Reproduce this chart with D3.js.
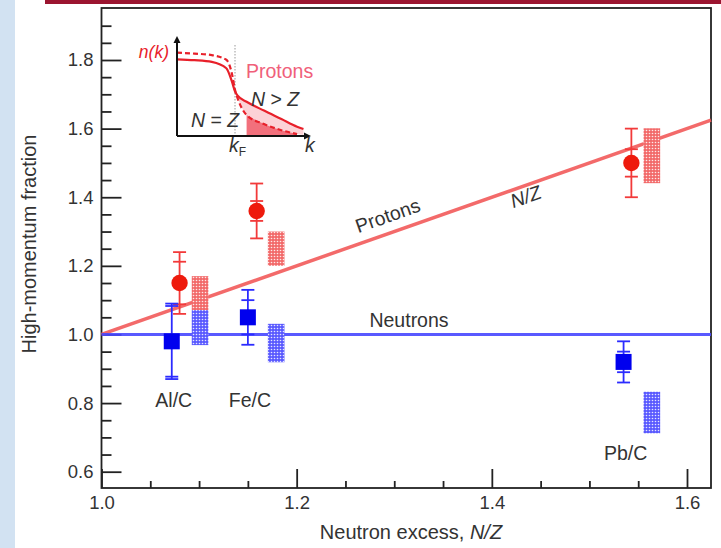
<!DOCTYPE html>
<html>
<head>
<meta charset="utf-8">
<script src="https://cdn.jsdelivr.net/npm/d3@7"></script>
<style>
  html, body { margin: 0; padding: 0; background: #fff; }
  svg { display: block; font-family: "Liberation Sans", Arial, Helvetica, sans-serif; }
</style>
</head>
<body>
<svg id="chart" width="721" height="548"></svg>
<script>
// Nuclei ratios and measured high-momentum fractions
const nuclei = ["Al/C", "Fe/C", "Pb/C"];

const protonNZ   = [1.080, 1.159, 1.543];
const protonFrac = [1.150, 1.360, 1.500];
const protonStat = [0.062, 0.029, 0.040];
const protonTot  = [0.090, 0.080, 0.100];

const neutronNZ   = [1.072, 1.150, 1.535];
const neutronFrac = [0.980, 1.050, 0.920];
const neutronStat = [0.103, 0.050, 0.030];
const neutronTot  = [0.110, 0.080, 0.060];

// Model prediction bands
const bandNZ        = [1.101, 1.179, 1.564];
const protonBandLo  = [1.071, 1.200, 1.441];
const protonBandHi  = [1.170, 1.300, 1.601];
const neutronBandLo = [0.969, 0.919, 0.712];
const neutronBandHi = [1.071, 1.031, 0.833];

// Axis ticks
const xMajor = [1.0, 1.2, 1.4, 1.6];
const xMajorLabels = ["1.0", "1.2", "1.4", "1.6"];
const yMajor = [0.6, 0.8, 1.0, 1.2, 1.4, 1.6, 1.8];
const yMajorLabels = ["0.6", "0.8", "1.0", "1.2", "1.4", "1.6", "1.8"];
const xMinor = [1.05, 1.1, 1.15, 1.25, 1.3, 1.35, 1.45, 1.5, 1.55];
const yMinor = [0.65, 0.7, 0.75, 0.85, 0.9, 0.95, 1.05, 1.1, 1.15, 1.25, 1.3, 1.35,
                1.45, 1.5, 1.55, 1.65, 1.7, 1.75, 1.85, 1.9];

// Inset: schematic momentum distributions n(k), k in units of kF
const insetK      = [0, 0.3, 0.6, 0.85, 0.95, 1.0, 1.05, 1.2, 1.5, 1.8, 2.07, 2.18];
const insetSolid  = [0.996, 0.985, 0.962, 0.88, 0.70, 0.58, 0.52, 0.445, 0.33, 0.22, 0.12, 0.09];
const insetDashed = [1.082, 1.07, 1.05, 0.99, 0.80, 0.60, 0.48, 0.273, 0.155, 0.075, 0.025, 0.012];

const svg = d3.select("#chart");

// page decorations
svg.append("rect").attr("x", 0).attr("y", 0).attr("width", 15).attr("height", 548).attr("fill", "#d2e2f2");
svg.append("rect").attr("x", 45).attr("y", 0).attr("width", 676).attr("height", 4).attr("fill", "#9b1530");

const fL = 101.5, fR = 711, fT = 8, fB = 488;
const x = d3.scaleLinear().domain([1.0, 1.6]).range([fL, 687]);
const y = d3.scaleLinear().domain([0.6, 1.8]).range([471.7, 60]);

const defs = svg.append("defs");
function dotPattern(id, bg) {
  const p = defs.append("pattern").attr("id", id).attr("patternUnits", "userSpaceOnUse")
    .attr("width", 3).attr("height", 3);
  p.append("rect").attr("width", 3).attr("height", 3).attr("fill", bg);
  p.append("circle").attr("cx", 1.5).attr("cy", 1.5).attr("r", 0.8).attr("fill", "#fff").attr("opacity", 0.85);
}
dotPattern("pRed", "#f26a6a");
dotPattern("pBlue", "#5a5aff");

// axes
const axisColor = "#222";
const tickFont = "18.5px";
const labelFont = "19.5px";
const titleFont = "20px";
const gx = svg.append("g").attr("transform", `translate(0,${fB})`);
gx.call(d3.axisBottom(x).tickValues(xMajor).tickFormat((d, i) => xMajorLabels[i]).tickSize(-19).tickPadding(8));
const gxm = svg.append("g").attr("transform", `translate(0,${fB})`);
gxm.call(d3.axisBottom(x).tickValues(xMinor).tickFormat("").tickSize(-7));
const gy = svg.append("g").attr("transform", `translate(${fL},0)`);
gy.call(d3.axisLeft(y).tickValues(yMajor).tickFormat((d, i) => yMajorLabels[i]).tickSize(-20).tickPadding(8));
const gym = svg.append("g").attr("transform", `translate(${fL},0)`);
gym.call(d3.axisLeft(y).tickValues(yMinor).tickFormat("").tickSize(-10));
[gx, gxm, gy, gym].forEach(g => {
  g.select(".domain").remove();
  g.selectAll(".tick line").attr("stroke", axisColor).attr("stroke-width", 1.8);
  g.selectAll(".tick text").attr("fill", "#333").style("font-size", tickFont)
    .style("font-family", "'Liberation Sans', Arial, sans-serif");
});

// frame
svg.append("rect").attr("x", fL).attr("y", fT).attr("width", fR - fL).attr("height", fB - fT)
  .attr("fill", "none").attr("stroke", axisColor).attr("stroke-width", 1.8);

// axis titles
svg.append("text").attr("transform", "translate(36,244) rotate(-90)")
  .attr("text-anchor", "middle").attr("fill", "#333").style("font-size", titleFont)
  .text("High-momentum fraction");
const xt = svg.append("text").attr("x", 411).attr("y", 539)
  .attr("text-anchor", "middle").attr("fill", "#333").style("font-size", titleFont);
xt.append("tspan").text("Neutron excess, ");
xt.append("tspan").style("font-style", "italic").text("N/Z");

const plot = svg.append("g");
const xEnd = x.invert(fR);

// reference lines: protons follow N/Z, neutrons stay at 1
plot.append("line").attr("x1", x(1.0)).attr("y1", y(1.0)).attr("x2", x(xEnd)).attr("y2", y(xEnd))
  .attr("stroke", "#f25a5a").attr("stroke-width", 3.5).attr("opacity", 0.9);
plot.append("line").attr("x1", x(1.0)).attr("y1", y(1.0)).attr("x2", x(xEnd)).attr("y2", y(1.0))
  .attr("stroke", "#4848ff").attr("stroke-width", 3).attr("opacity", 0.9);

const ang = Math.atan2(y(1.5) - y(1.0), x(1.5) - x(1.0)) * 180 / Math.PI;
plot.append("text").attr("transform", `translate(390,222) rotate(${ang})`).attr("text-anchor", "middle")
  .attr("fill", "#333").style("font-size", labelFont).text("Protons");
plot.append("text").attr("transform", `translate(528,203) rotate(${ang})`).attr("text-anchor", "middle")
  .attr("fill", "#333").style("font-size", labelFont).style("font-style", "italic").text("N/Z");
plot.append("text").attr("x", 409).attr("y", 327).attr("text-anchor", "middle")
  .attr("fill", "#333").style("font-size", labelFont).text("Neutrons");

// prediction bands
const bw = 0.0085;
bandNZ.forEach((nz, i) => {
  plot.append("rect").attr("x", x(nz - bw)).attr("width", x(nz + bw) - x(nz - bw))
    .attr("y", y(protonBandHi[i])).attr("height", y(protonBandLo[i]) - y(protonBandHi[i]))
    .attr("fill", "url(#pRed)");
  plot.append("rect").attr("x", x(nz - bw)).attr("width", x(nz + bw) - x(nz - bw))
    .attr("y", y(neutronBandHi[i])).attr("height", y(neutronBandLo[i]) - y(neutronBandHi[i]))
    .attr("fill", "url(#pBlue)");
});

// error bars with inner (statistical) and outer (total) caps
function errorBar(nz, v, stat, tot, color) {
  const cx = x(nz), hw = 6.5;
  plot.append("line").attr("x1", cx).attr("x2", cx).attr("y1", y(v + tot)).attr("y2", y(v - tot))
    .attr("stroke", color).attr("stroke-width", 1.8);
  [v + tot, v - tot, v + stat, v - stat].forEach(val => {
    plot.append("line").attr("x1", cx - hw).attr("x2", cx + hw).attr("y1", y(val)).attr("y2", y(val))
      .attr("stroke", color).attr("stroke-width", 1.8);
  });
}
protonNZ.forEach((nz, i) => {
  errorBar(nz, protonFrac[i], protonStat[i], protonTot[i], "#f23a3a");
  plot.append("circle").attr("cx", x(nz)).attr("cy", y(protonFrac[i])).attr("r", 8.2).attr("fill", "#ee1a0c");
});
neutronNZ.forEach((nz, i) => {
  errorBar(nz, neutronFrac[i], neutronStat[i], neutronTot[i], "#2b2bff");
  plot.append("rect").attr("x", x(nz) - 8).attr("y", y(neutronFrac[i]) - 8).attr("width", 16).attr("height", 16)
    .attr("fill", "#0000ee");
});

// nucleus labels, placed below each pair of points
const labelAt = [0.79, 0.79, 0.634];
nuclei.forEach((name, i) => {
  plot.append("text").attr("x", x(neutronNZ[i]) + 2).attr("y", y(labelAt[i]))
    .attr("text-anchor", "middle").attr("fill", "#333").style("font-size", labelFont).text(name);
});

// inset
const ik = d3.scaleLinear().domain([0, 1]).range([177, 235]);
const inn = d3.scaleLinear().domain([0, 1]).range([136, 59]);
const ins = svg.append("g");
const insetPts = insetK.map((k, i) => ({ k, s: insetSolid[i], d: insetDashed[i] }));
const cv = d3.curveMonotoneX;

ins.append("path").datum(insetPts.filter(p => p.k >= 1.05))
  .attr("d", d3.area().curve(cv).x(p => ik(p.k)).y0(p => inn(p.d)).y1(p => inn(p.s)))
  .attr("fill", "#fcd2d6");
ins.append("path").datum(insetPts.filter(p => p.k >= 1.2 && p.k <= 2.07))
  .attr("d", d3.area().curve(cv).x(p => ik(p.k)).y0(inn(0)).y1(p => inn(p.d)))
  .attr("fill", "#f2707c");

ins.append("line").attr("x1", ik(1)).attr("x2", ik(1)).attr("y1", 45).attr("y2", inn(0))
  .attr("stroke", "#999").attr("stroke-width", 1).attr("stroke-dasharray", "1.5,1.5");

ins.append("path").datum(insetPts)
  .attr("d", d3.line().curve(cv).x(p => ik(p.k)).y(p => inn(p.s)))
  .attr("fill", "none").attr("stroke", "#e8202a").attr("stroke-width", 2.2);
ins.append("path").datum(insetPts.filter(p => p.k <= 2.07))
  .attr("d", d3.line().curve(cv).x(p => ik(p.k)).y(p => inn(p.d)))
  .attr("fill", "none").attr("stroke", "#e8202a").attr("stroke-width", 2.2).attr("stroke-dasharray", "5,3");

// inset axes with arrowheads
ins.append("line").attr("x1", ik(0)).attr("x2", ik(0)).attr("y1", 40).attr("y2", inn(0)).attr("stroke", "#111").attr("stroke-width", 2);
ins.append("line").attr("x1", ik(0)).attr("x2", 306).attr("y1", inn(0)).attr("y2", inn(0)).attr("stroke", "#111").attr("stroke-width", 2);
ins.append("path").attr("d", `M${ik(0) - 3.5},43 L${ik(0)},36 L${ik(0) + 3.5},43 Z`).attr("fill", "#111");
ins.append("path").attr("d", `M304,${inn(0) - 3.5} L311,${inn(0)} L304,${inn(0) + 3.5} Z`).attr("fill", "#111");

ins.append("text").attr("x", 169).attr("y", 58).attr("text-anchor", "end")
  .attr("fill", "#e8202a").style("font-size", "17.5px").style("font-style", "italic").text("n(k)");
ins.append("text").attr("x", 246).attr("y", 78).attr("fill", "#f0607a").style("font-size", labelFont).text("Protons");
const ngz = ins.append("text").attr("x", 251).attr("y", 106).attr("fill", "#333").style("font-size", labelFont);
ngz.append("tspan").style("font-style", "italic").text("N");
ngz.append("tspan").text(" > ");
ngz.append("tspan").style("font-style", "italic").text("Z");
const nez = ins.append("text").attr("x", 191).attr("y", 127).attr("fill", "#333").style("font-size", labelFont);
nez.append("tspan").style("font-style", "italic").text("N");
nez.append("tspan").text(" = ");
nez.append("tspan").style("font-style", "italic").text("Z");
const kf = ins.append("text").attr("x", 229).attr("y", 152).attr("fill", "#333").style("font-size", labelFont);
kf.append("tspan").style("font-style", "italic").text("k");
kf.append("tspan").attr("dy", 4).style("font-size", "12px").text("F");
ins.append("text").attr("x", 305).attr("y", 152).attr("fill", "#333").style("font-size", labelFont)
  .style("font-style", "italic").text("k");
</script>
</body>
</html>
